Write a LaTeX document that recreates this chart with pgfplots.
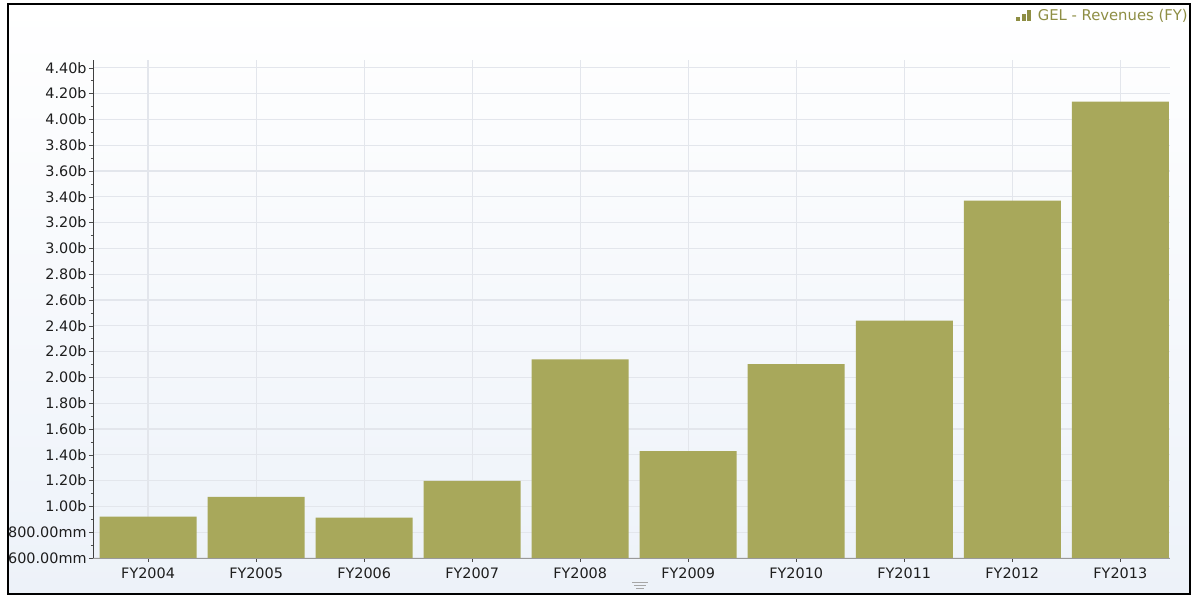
\documentclass[border=0pt]{standalone}
\usepackage{fontspec}
\setmainfont{DejaVu Sans}
\usepackage{pgfplots}
\pgfplotsset{compat=1.18}
\definecolor{barc}{HTML}{A8A85B}
\definecolor{gridc}{HTML}{E3E6EC}
\definecolor{legc}{HTML}{8E8E44}
\definecolor{bgc}{HTML}{EDF2F9}
\definecolor{lblc}{HTML}{1E1E1E}
\begin{document}
\begin{tikzpicture}
\useasboundingbox (0,0) rectangle (597pt,299pt);
\shade[top color=white,bottom color=bgc] (4pt,2pt) rectangle (595pt,297pt);
\draw[black,line width=1.2pt] (4pt,2pt) rectangle (595pt,297pt);
\begin{axis}[
  at={(46.5pt,20pt)}, anchor=south west,
  scale only axis, width=538.5pt, height=249pt,
  xmin=-0.51, xmax=9.46, ymin=0.6, ymax=4.46,
  ybar, bar width=48.5pt,
  axis lines*=left,
  x axis line style={draw=gray!80},
  y axis line style={draw=black!75},
  xtick={0,...,9},
  xticklabels={FY2004,FY2005,FY2006,FY2007,FY2008,FY2009,FY2010,FY2011,FY2012,FY2013},
  ytick={0.6,0.8,1.0,1.2,1.4,1.6,1.8,2.0,2.2,2.4,2.6,2.8,3.0,3.2,3.4,3.6,3.8,4.0,4.2,4.4},
  yticklabels={600.00mm,800.00mm,1.00b,1.20b,1.40b,1.60b,1.80b,2.00b,2.20b,2.40b,2.60b,2.80b,3.00b,3.20b,3.40b,3.60b,3.80b,4.00b,4.20b,4.40b},
  minor y tick num=1,
  tick align=outside,
  major tick length=2pt, minor tick length=1pt,
  tick style={draw=black!70},
  grid=major,
  major grid style={draw=gridc, line width=0.6pt},
  ticklabel style={font=\fontsize{7.2}{8}\selectfont, text=lblc},
  yticklabel style={inner sep=1pt},
  xticklabel style={inner sep=2.5pt},
  clip=false,
]
\addplot[fill=barc, draw=none] coordinates {
(0,0.920) (1,1.073) (2,0.912) (3,1.197) (4,2.140)
(5,1.429) (6,2.102) (7,2.440) (8,3.370) (9,4.137)};
\end{axis}
\node[anchor=east, inner sep=0pt, text=legc, font=\fontsize{7.4}{8}\selectfont] at (594pt,291pt)
  {\rule{2pt}{2pt}\hspace{0.6pt}\rule{2pt}{3.5pt}\hspace{0.6pt}\rule{2pt}{5.5pt}\hspace{3.5pt}GEL - Revenues (FY)};
\draw[gray!70, line width=0.5pt] (316pt,7.5pt) -- (324pt,7.5pt);
\draw[gray!70, line width=0.5pt] (317pt,6pt) -- (323pt,6pt);
\draw[gray!70, line width=0.5pt] (318pt,4.5pt) -- (322pt,4.5pt);
\end{tikzpicture}
\end{document}
